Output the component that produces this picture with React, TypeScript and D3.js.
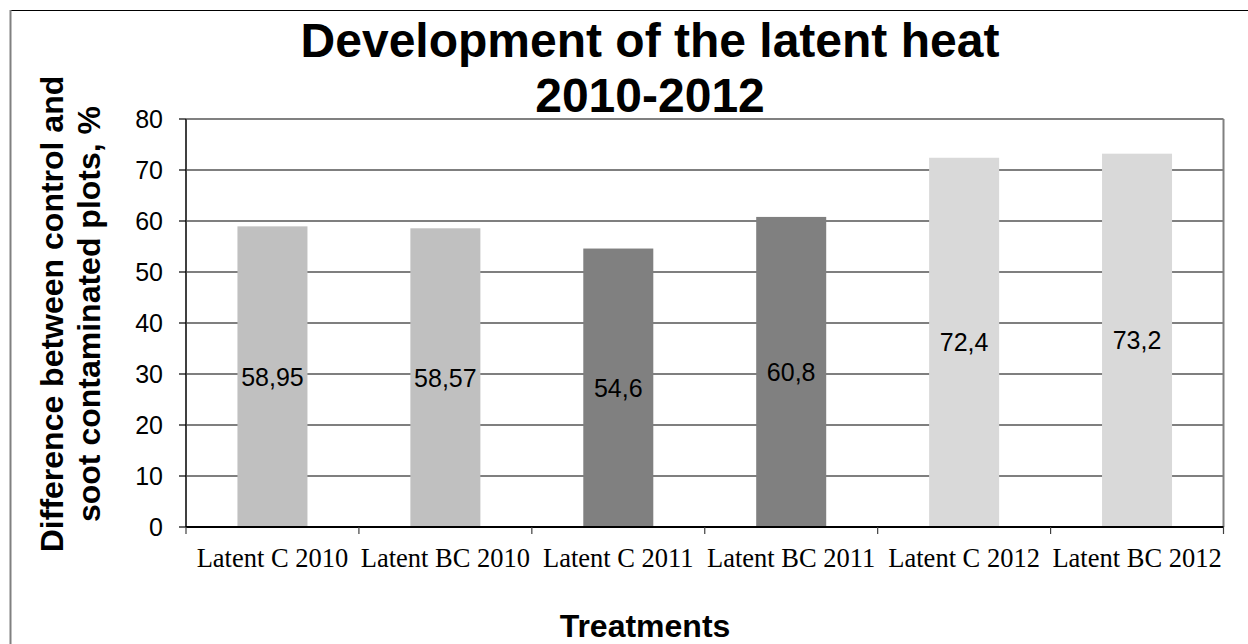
import React from "react";
import * as d3 from "d3";

// Treatments and their values (difference between control and soot contaminated plots, %)
const categories = [
  "Latent C 2010",
  "Latent BC 2010",
  "Latent C 2011",
  "Latent BC 2011",
  "Latent C 2012",
  "Latent BC 2012",
];
const values = [58.95, 58.57, 54.6, 60.8, 72.4, 73.2];
const valueLabels = ["58,95", "58,57", "54,6", "60,8", "72,4", "73,2"];
const barColors = ["#c0c0c0", "#c0c0c0", "#808080", "#808080", "#d9d9d9", "#d9d9d9"];
const yTicks = [0, 10, 20, 30, 40, 50, 60, 70, 80];

const W = 1248;
const H = 644;
const plot = { left: 186, right: 1223.5, top: 119, bottom: 527 };
const gapWidth = 1.47;
const sans = "Arial, 'Liberation Sans', sans-serif";
const serif = "'Times New Roman', 'Liberation Serif', serif";

export default function App() {
  const x = d3
    .scaleBand<string>()
    .domain(categories)
    .range([plot.left, plot.right])
    .padding(0);
  const y = d3.scaleLinear().domain([0, 80]).range([plot.bottom, plot.top]);
  const band = x.bandwidth();
  const barW = band / (1 + gapWidth);
  const boundaries = d3.range(categories.length + 1).map((i) => plot.left + i * band);

  return (
    <svg
      width={W}
      height={H}
      style={{ position: "fixed", left: 0, top: 0, display: "block", background: "#fff" }}
    >
      <rect x={0} y={0} width={W} height={H} fill="#fff" />
      {/* chart area frame */}
      <line x1={10} x2={W} y1={10.5} y2={10.5} stroke="#000" strokeWidth={1} />
      <line x1={10.5} x2={10.5} y1={10} y2={H} stroke="#808080" strokeWidth={2} />

      {/* title */}
      <text
        x={650}
        textAnchor="middle"
        fontFamily={sans}
        fontWeight="bold"
        fontSize={48}
        fill="#000"
      >
        <tspan x={650} y={57}>Development of the latent heat</tspan>
        <tspan x={650} y={112}>2010-2012</tspan>
      </text>

      {/* gridlines */}
      {yTicks
        .filter((t) => t > 0 && t < 80)
        .map((t) => (
          <line
            key={"g" + t}
            x1={plot.left}
            x2={plot.right}
            y1={y(t)}
            y2={y(t)}
            stroke="#000"
            strokeWidth={1.2}
          />
        ))}

      {/* plot area border */}
      <line x1={plot.left} x2={plot.right} y1={plot.top} y2={plot.top} stroke="#808080" strokeWidth={2} />
      <line x1={plot.right} x2={plot.right} y1={plot.top} y2={plot.bottom} stroke="#808080" strokeWidth={2} />

      {/* bars */}
      {categories.map((c, i) => (
        <rect
          key={c}
          x={(x(c) as number) + (band - barW) / 2}
          y={y(values[i])}
          width={barW}
          height={plot.bottom - y(values[i])}
          fill={barColors[i]}
        />
      ))}

      {/* value labels centred in bars */}
      {categories.map((c, i) => (
        <text
          key={"v" + c}
          x={(x(c) as number) + band / 2}
          y={y(values[i] / 2)}
          dy="0.36em"
          textAnchor="middle"
          fontFamily={sans}
          fontSize={25}
          fill="#000"
        >
          {valueLabels[i]}
        </text>
      ))}

      {/* y axis */}
      <line x1={plot.left} x2={plot.left} y1={plot.top} y2={plot.bottom} stroke="#404040" strokeWidth={2} />
      {yTicks.map((t) => (
        <g key={"yt" + t}>
          <line x1={plot.left - 7} x2={plot.left} y1={y(t)} y2={y(t)} stroke="#000" strokeWidth={1.2} />
          <text
            x={163}
            y={y(t)}
            dy="0.36em"
            textAnchor="end"
            fontFamily={sans}
            fontSize={25}
            fill="#000"
          >
            {t}
          </text>
        </g>
      ))}

      {/* x axis */}
      <line x1={plot.left} x2={plot.right} y1={plot.bottom} y2={plot.bottom} stroke="#000" strokeWidth={2} />
      {boundaries.map((bx, i) => (
        <line key={"xt" + i} x1={bx} x2={bx} y1={plot.bottom} y2={plot.bottom + 7} stroke="#404040" strokeWidth={1.2} />
      ))}
      {categories.map((c) => (
        <text
          key={"xl" + c}
          x={(x(c) as number) + band / 2}
          y={567}
          textAnchor="middle"
          fontFamily={serif}
          fontSize={26.5}
          fill="#000"
        >
          {c}
        </text>
      ))}

      {/* axis titles */}
      <text
        x={645}
        y={637}
        textAnchor="middle"
        fontFamily={sans}
        fontWeight="bold"
        fontSize={32}
        fill="#000"
      >
        Treatments
      </text>
      <text
        transform="translate(63,314) rotate(-90)"
        textAnchor="middle"
        fontFamily={sans}
        fontWeight="bold"
        fontSize={32}
        fill="#000"
      >
        <tspan x={0} y={0}>Difference between control and</tspan>
        <tspan x={0} y={37}>soot contaminated plots, %</tspan>
      </text>
    </svg>
  );
}
